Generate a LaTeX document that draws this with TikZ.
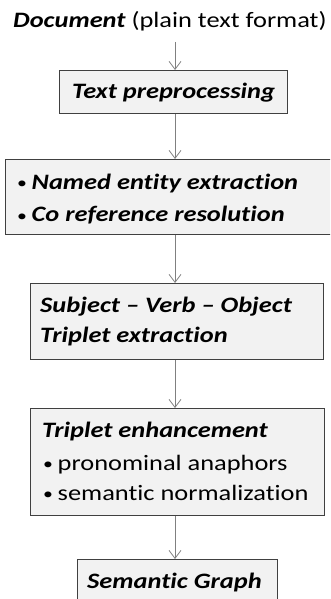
\documentclass[tikz,border=0pt]{standalone}
\usepackage{fontspec}
\setmainfont{Carlito}[FakeStretch=1.2, Ligatures=NoCommon]
\usetikzlibrary{arrows.meta}
\definecolor{boxfill}{HTML}{F2F2F2}
\definecolor{boxline}{HTML}{404040}
\definecolor{arrowc}{HTML}{808080}
\newcommand{\blt}{\makebox[14.5pt][l]{\raisebox{0.5pt}{\scalebox{0.75}{•}}}}
\tikzset{
  stage/.style={draw=boxline, line width=0.9pt, fill=boxfill, inner sep=0pt, anchor=north west},
  flow/.style={draw=arrowc, line width=0.8pt, -{Straight Barb[length=8pt,width=12pt,line width=0.8pt]}},
  hd/.style={font=\fontsize{22}{26}\selectfont\bfseries\itshape, inner sep=0pt, anchor=base west, text=black},
  pl/.style={font=\fontsize{22}{26}\selectfont, inner sep=0pt, anchor=base west, text=black}
}
\begin{document}
\begin{tikzpicture}[x=1pt,y=-1pt]
\useasboundingbox (0,0) rectangle (330,599);
\clip (0,0) rectangle (330,599);
\coordinate (ax) at (175,0);
% title
\node[hd] (doc) at (13,28) {Document\textmd{\upshape{} (plain text format)}};
\coordinate (docb) at (175,42);
% boxes
\node[stage, minimum width=228pt, minimum height=43pt] (b1) at (59,70) {};
\node[stage, minimum width=340pt, minimum height=75pt] (b2) at (5,159) {};
\node[stage, minimum width=293pt, minimum height=76pt] (b3) at (30,283) {};
\node[stage, minimum width=294pt, minimum height=107pt] (b4) at (30,408) {};
\node[stage, minimum width=200pt, minimum height=50pt] (b5) at (77,559) {};
% texts
\node[hd] (t1) at (72,99) {Text preprocessing};
\node[pl] (t2a) at (17,189) {\blt\textbf{\itshape Named entity extraction}};
\node[pl] (t2b) at (17,221.5) {\blt\textbf{\itshape Co reference resolution}};
\node[hd] (t3a) at (40,312) {Subject – Verb – Object};
\node[hd] (t3b) at (40,342) {Triplet extraction};
\node[hd] (t4a) at (42,437) {Triplet enhancement};
\node[pl] (t4b) at (43,470) {\blt pronominal anaphors};
\node[pl] (t4c) at (43,500) {\blt semantic normalization};
\node[hd] (t5) at (87,588) {Semantic Graph};
% connectors
\draw[flow] (docb) -- (b1.north -| ax);
\draw[flow] (b1.south -| ax) -- (b2.north -| ax);
\draw[flow] (b2.south -| ax) -- (b3.north -| ax);
\draw[flow] (b3.south -| ax) -- (b4.north -| ax);
\draw[flow] (b4.south -| ax) -- (b5.north -| ax);
\end{tikzpicture}
\end{document}
